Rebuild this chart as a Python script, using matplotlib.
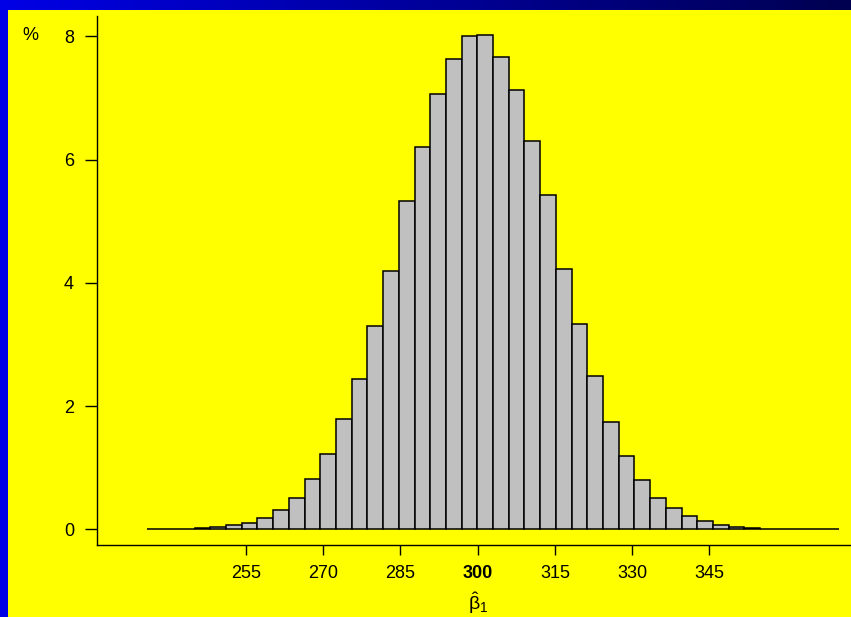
import numpy as np
import matplotlib.pyplot as plt
from matplotlib.patches import Rectangle

plt.rcParams["font.family"] = ["Liberation Sans", "DejaVu Sans"]
plt.rcParams["mathtext.fontset"] = "custom"
plt.rcParams["mathtext.rm"] = "Liberation Sans"
plt.rcParams["mathtext.it"] = "Liberation Sans"

# histogram of beta_1 estimates, percent per bin
bin_edges = np.linspace(235.9, 370.1, 45)
percent = [0.01, 0.01, 0.01, 0.02, 0.04, 0.065, 0.10, 0.19, 0.31, 0.51,
           0.82, 1.22, 1.79, 2.44, 3.30, 4.19, 5.33, 6.21, 7.06, 7.63,
           8.01, 8.02, 7.66, 7.13, 6.30, 5.42, 4.22, 3.33, 2.48, 1.74,
           1.19, 0.80, 0.50, 0.35, 0.21, 0.13, 0.065, 0.04, 0.02, 0.01,
           0.005, 0.005, 0.005, 0.005]
x_ticks = [255, 270, 285, 300, 315, 330, 345]
y_ticks = [0, 2, 4, 6, 8]

W, H = 851, 617
fig = plt.figure(figsize=(W / 100, H / 100), dpi=100)
fig.patch.set_facecolor("#0000e0")

# blue frame with gradient along the top, yellow panel
bg = fig.add_axes([0, 0, 1, 1])
bg.set_axis_off()
grad = np.linspace(0, 1, 256)[None, :]
top_l = np.array([0, 0, 230]) / 255
top_r = np.array([0, 0, 80]) / 255
img = top_l[None, None, :] * (1 - grad[..., None]) + top_r[None, None, :] * grad[..., None]
bg.imshow(img, extent=[0, W, 0, H], aspect="auto")
bg.add_patch(Rectangle((0, 0), 8, H, color="#0000e6", lw=0))
bg.add_patch(Rectangle((8, 0), W - 8, H - 10, color="#ffff00", lw=0))
bg.set_xlim(0, W)
bg.set_ylim(0, H)

ax = fig.add_axes([97 / W, (H - 545) / H, (W - 97) / W, (545 - 16) / H])
ax.set_facecolor("none")
widths = np.diff(bin_edges)
ax.bar(bin_edges[:-1], percent, width=widths, align="edge",
       color="#c0c0c0", edgecolor="black", linewidth=1.1)

ax.set_xlim(226.1, 372.5)
ax.set_ylim(-0.255, 8.33)
for s in ["top", "right"]:
    ax.spines[s].set_visible(False)
ax.spines["left"].set_linewidth(1.0)
ax.spines["bottom"].set_linewidth(1.0)

ax.set_xticks(x_ticks)
ax.set_xticklabels([str(v) for v in x_ticks])
for lbl in ax.get_xticklabels():
    if lbl.get_text() == "300":
        lbl.set_fontweight("bold")
ax.set_yticks(y_ticks)
ax.set_yticklabels([str(v) for v in y_ticks])
ax.tick_params(axis="x", length=7.5, width=1.0, pad=7, labelsize=13)
ax.tick_params(axis="y", length=8.5, width=1.0, pad=8, labelsize=13)

fig.text(30 / W, 1 - 36 / H, "%", fontsize=13, ha="center", va="center")
fig.text(478 / W, 1 - 603 / H, r"$\hat{\mathrm{\beta}}_{1}$", fontsize=14,
         ha="center", va="center")

fig.savefig("out.png", dpi=100, facecolor=fig.get_facecolor())
